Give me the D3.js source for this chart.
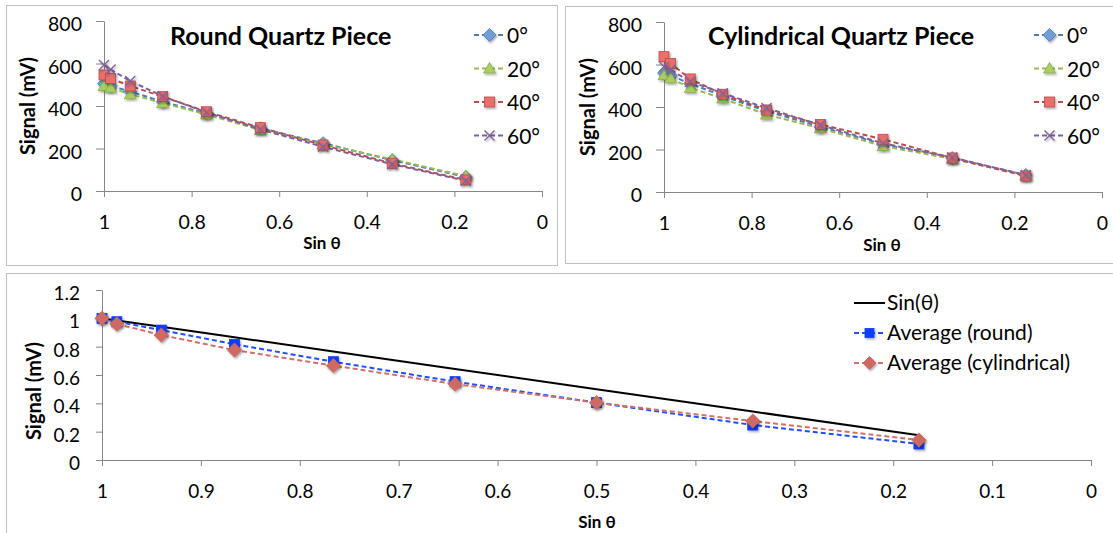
<!DOCTYPE html>
<html><head><meta charset="utf-8">
<script src="https://cdn.jsdelivr.net/npm/d3@7"></script>
<style>
body{margin:0;background:#fff;}
svg{display:block;font-family:Lato,"Open Sans","DejaVu Sans",sans-serif;}
</style></head>
<body><svg id="c" width="1113" height="533"></svg>
<script>
const sinTheta = [1, 0.985, 0.940, 0.866, 0.766, 0.643, 0.5, 0.342, 0.174];
const angleLabels = ["0°", "20°", "40°", "60°"];
const round0  = [505, 495, 468, 420, 365, 295, 225, 145, 66];
const round20 = [494, 486, 455, 414, 360, 287, 220, 149, 70];
const round40 = [546, 530, 494, 444, 373, 298, 216, 130, 52];
const round60 = [593, 572, 518, 446, 370, 290, 208, 126, 48];
const cyl0  = [560, 548, 510, 452, 380, 307, 225, 160, 80];
const cyl20 = [550, 535, 490, 440, 364, 300, 216, 156, 78];
const cyl40 = [637, 605, 532, 460, 386, 318, 248, 160, 75];
const cyl60 = [590, 575, 520, 465, 395, 315, 229, 162, 80];
const sinValues = [1, 0.985, 0.940, 0.866, 0.766, 0.643, 0.5, 0.342, 0.174];
const avgRound = [1, 0.976, 0.917, 0.817, 0.694, 0.553, 0.405, 0.247, 0.113];
const avgCyl   = [1, 0.960, 0.882, 0.776, 0.666, 0.536, 0.405, 0.275, 0.141];
const bottomLabels = ["Sin(θ)", "Average (round)", "Average (cylindrical)"];
const topYTicks = [0, 200, 400, 600, 800];
const topXTicks = [1, 0.8, 0.6, 0.4, 0.2, 0];
const botYTicks = [0, 0.2, 0.4, 0.6, 0.8, 1, 1.2];
const botXTicks = [1, 0.9, 0.8, 0.7, 0.6, 0.5, 0.4, 0.3, 0.2, 0.1, 0];

const svg = d3.select("#c");
const defs = svg.append("defs");
const f = defs.append("filter").attr("id","sh").attr("x","-50%").attr("y","-50%").attr("width","200%").attr("height","200%");
f.append("feDropShadow").attr("dx",1.2).attr("dy",1.5).attr("stdDeviation",1).attr("flood-color","#000").attr("flood-opacity",0.35);

const styles = [
  {line:"#4a7ebb", fill:"#6f9fd8", stroke:"#4a7ebb", shape:"diamond"},
  {line:"#98b954", fill:"#a9cd62", stroke:"#8aac48", shape:"triangle"},
  {line:"#be4b48", fill:"#e8706b", stroke:"#be4b48", shape:"square"},
  {line:"#7d60a0", fill:"#8f74b3", stroke:"#7d60a0", shape:"x"}
];

function marker(g, shape, x, y, st, size){
  const s = size;
  let el;
  if(shape==="diamond"){
    el = g.append("path").attr("d",`M${x},${y-s*0.65}L${x+s*0.65},${y}L${x},${y+s*0.65}L${x-s*0.65},${y}Z`);
  } else if(shape==="triangle"){
    el = g.append("path").attr("d",`M${x},${y-s*0.6}L${x+s*0.6},${y+s*0.45}L${x-s*0.6},${y+s*0.45}Z`);
  } else if(shape==="square"){
    el = g.append("rect").attr("x",x-s/2).attr("y",y-s/2).attr("width",s).attr("height",s);
  } else {
    const h = s*0.5;
    el = g.append("path").attr("d",`M${x-h},${y-h}L${x+h},${y+h}M${x-h},${y+h}L${x+h},${y-h}`)
      .attr("stroke",st.line).attr("stroke-width",1.3).attr("fill","none");
    el.attr("filter","url(#sh)");
    return;
  }
  el.attr("fill",st.fill).attr("stroke",st.stroke).attr("stroke-width",0.8).attr("filter","url(#sh)");
}

function panel(x0,y0,x1,y1){
  svg.append("rect").attr("x",x0+0.5).attr("y",y0+0.5).attr("width",x1-x0).attr("height",y1-y0)
    .attr("fill","#fff").attr("stroke","#bfbfbf").attr("stroke-width",1);
}

function axes(x, y, xTicks, yTicks, fs, xPad, yTick, yPad){
  const gx = svg.append("g").attr("transform",`translate(0,${y.range()[0]})`)
    .call(d3.axisBottom(x).tickValues(xTicks).tickFormat(d3.format("")).tickSizeOuter(0).tickSizeInner(6).tickPadding(xPad));
  const gy = svg.append("g").attr("transform",`translate(${x.range()[0]},0)`)
    .call(d3.axisLeft(y).tickValues(yTicks).tickFormat(d3.format("")).tickSizeOuter(0).tickSizeInner(yTick).tickPadding(yPad));
  [gx,gy].forEach(g=>{
    g.select(".domain").attr("stroke","#868686");
    g.selectAll(".tick line").attr("stroke","#868686");
    g.selectAll(".tick text").attr("fill","#000").style("font-size",fs+"px").style("font-family","Lato,'Open Sans',sans-serif");
  });
  gy.selectAll(".tick text").attr("dy","0.5em");
}

function topChart(opts){
  const {x0,x1,y0,y1,series,title,titleX,titleSize,legX,axTitleX,axTitleY,yTitleX} = opts;
  const x = d3.scaleLinear().domain([1,0]).range([x0,x1]);
  const y = d3.scaleLinear().domain([0,800]).range([y1,y0]);
  axes(x,y,topXTicks,topYTicks,19.5,18,8,14);
  const line = d3.line().x((d,i)=>x(sinTheta[i])).y(d=>y(d));
  series.forEach((s,k)=>{
    svg.append("path").datum(s).attr("d",line).attr("fill","none").attr("stroke",styles[k].line)
      .attr("stroke-width",2).attr("stroke-dasharray","5,3");
  });
  series.forEach((s,k)=>{
    const g = svg.append("g");
    s.forEach((v,i)=>marker(g,styles[k].shape,x(sinTheta[i]),y(v),styles[k],10));
  });
  svg.append("text").attr("x",titleX).attr("y",45).attr("font-weight","bold").style("font-size",titleSize+"px").text(title);
  angleLabels.forEach((lab,k)=>{
    const ly = 35 + k*33.5;
    svg.append("line").attr("x1",legX).attr("x2",legX+31).attr("y1",ly).attr("y2",ly)
      .attr("stroke",styles[k].line).attr("stroke-width",2).attr("stroke-dasharray","5,3");
    marker(svg.append("g"),styles[k].shape,legX+15.5,ly,styles[k],10);
    svg.append("text").attr("x",legX+33).attr("y",ly+8).style("font-size","21px").text(lab);
  });
  svg.append("text").attr("x",axTitleX).attr("y",axTitleY).attr("text-anchor","middle").attr("font-weight","bold").style("font-size","17px").text("Sin θ");
  svg.append("text").attr("transform",`translate(${yTitleX},${(y0+y1)/2}) rotate(-90)`).attr("text-anchor","middle")
    .attr("font-weight","bold").style("font-size","20px").text("Signal (mV)");
}

panel(6,5,557,265);
panel(565,6,1113,263);
panel(6,273,1113,533);

topChart({x0:104,x1:542,y0:21,y1:191,series:[round0,round20,round40,round60],title:"Round Quartz Piece",titleSize:25,
  titleX:170,legX:474,axTitleX:322,axTitleY:249,yTitleX:35});
topChart({x0:664,x1:1102,y0:22,y1:192,series:[cyl0,cyl20,cyl40,cyl60],title:"Cylindrical Quartz Piece",titleSize:25,
  titleX:708,legX:1034,axTitleX:882,axTitleY:251,yTitleX:595});

// bottom chart
{
  const x = d3.scaleLinear().domain([1,0]).range([102,1091]);
  const y = d3.scaleLinear().domain([0,1.2]).range([460,290]);
  axes(x,y,botXTicks,botYTicks,19,19,6,16);
  const line = d3.line().x((d,i)=>x(sinTheta[i])).y(d=>y(d));
  svg.append("path").datum(sinValues).attr("d",line).attr("fill","none").attr("stroke","#000").attr("stroke-width",2);
  const blue = {line:"#1f4fff", fill:"#0a3cff", stroke:"#0a3cff"};
  const red = {line:"#d0706a", fill:"#cf6b63", stroke:"#c7645d"};
  svg.append("path").datum(avgRound).attr("d",line).attr("fill","none").attr("stroke",blue.line).attr("stroke-width",2).attr("stroke-dasharray","5,3");
  svg.append("path").datum(avgCyl).attr("d",line).attr("fill","none").attr("stroke",red.line).attr("stroke-width",2).attr("stroke-dasharray","5,3");
  const g = svg.append("g");
  avgRound.forEach((v,i)=>marker(g,"square",x(sinTheta[i]),y(v),blue,10));
  avgCyl.forEach((v,i)=>marker(g,"diamond",x(sinTheta[i]),y(v),red,11));
  const legX = 854;
  const lys = [303,333,363];
  const lst = [{line:"#000"},blue,red];
  bottomLabels.forEach((lab,k)=>{
    const ly = lys[k];
    const l = svg.append("line").attr("x1",legX).attr("x2",legX+31).attr("y1",ly).attr("y2",ly).attr("stroke",lst[k].line).attr("stroke-width",2);
    if(k>0){ l.attr("stroke-dasharray","5,3"); marker(svg.append("g"),k===1?"square":"diamond",legX+15.5,ly,lst[k],k===1?9:10); }
    svg.append("text").attr("x",legX+33).attr("y",ly+7).style("font-size","21px").text(lab);
  });
  svg.append("text").attr("x",597).attr("y",528).attr("text-anchor","middle").attr("font-weight","bold").style("font-size","17px").text("Sin θ");
  svg.append("text").attr("transform",`translate(41,391) rotate(-90)`).attr("text-anchor","middle")
    .attr("font-weight","bold").style("font-size","20px").text("Signal (mV)");
}
</script></body></html>
